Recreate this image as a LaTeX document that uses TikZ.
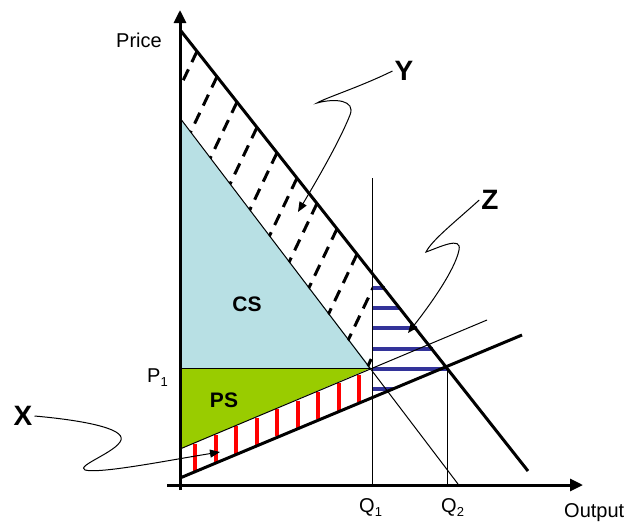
\documentclass[tikz,border=0pt]{standalone}
\usepackage{fontspec}
\setmainfont{Liberation Sans}
\usetikzlibrary{arrows.meta}

\definecolor{csblue}{RGB}{184,224,228}
\definecolor{psgreen}{RGB}{153,204,0}
\definecolor{hatchblue}{RGB}{51,51,153}

\newcommand{\lowsub}[1]{\raisebox{-4pt}{\fontsize{13}{13}\selectfont #1}}

\begin{document}
\begin{tikzpicture}[
  x=1pt, y=-1pt,
  axis/.style={line width=3pt, -{Triangle[length=13pt,width=12pt]}},
  thickline/.style={line width=3pt},
  thinline/.style={line width=1pt},
  lbl/.style={font=\fontsize{20}{22}\selectfont, inner sep=0pt, anchor=base west},
  big/.style={font=\fontsize{28}{30}\selectfont\bfseries, inner sep=2pt},
  area/.style={font=\fontsize{21}{23}\selectfont\bfseries},
  pointer/.style={line width=1pt, -{Triangle[length=10pt,width=8pt]}},
  dashhatch/.style={line width=3pt, dash pattern=on 12pt off 8pt},
  redhatch/.style={line width=4pt, red},
  bluehatch/.style={line width=4pt, hatchblue}
]

\useasboundingbox (0,0) rectangle (629,523);

\coordinate (ytop) at (180,10);
\coordinate (ybot) at (180,490);
\coordinate (xleft) at (167,485);
\coordinate (xright) at (583,485);
\coordinate (d1a) at (181,31);
\coordinate (d1b) at (528,471);
\coordinate (d2a) at (180,118);
\coordinate (d2b) at (458,484);
\coordinate (s1a) at (180,478);
\coordinate (s1b) at (522,335);
\coordinate (s2a) at (180,449);
\coordinate (s2b) at (487,320);
\coordinate (e1) at (371,368);
\coordinate (p1) at (180,368);
\coordinate (q1top) at (372,178);
\coordinate (q1bot) at (372,485);
\coordinate (e2) at (447,367);
\coordinate (q2bot) at (447,485);
\coordinate (xtip) at (220,452);
\coordinate (ytip) at (298,212);
\coordinate (ztip) at (408,333);

\fill[csblue] (d2a) -- (e1) -- (p1) -- cycle;
\fill[psgreen] (p1) -- (e1) -- (s2a) -- cycle;
\draw[thinline] (p1) -- (e1);

\begin{scope}
  \clip (d1a) -- (372,273) -- (372,372) -- (d2a) -- cycle;
  \foreach \xx in {197,217,...,397}
    \draw[dashhatch] (\xx,{31+1.268*(\xx-181)}) -- ++(-70,147);
\end{scope}

\foreach \i [evaluate=\i as \xx using 195+20.5*\i] in {0,...,8}
  \draw[redhatch] (\xx,{450-0.4202*(\xx-180)}) -- (\xx,{477-0.4181*(\xx-180)});

\foreach \yy/\xx in {288/385,308/400,328/417,349/433,369/447,389/393}
  \draw[bluehatch] (372,\yy) -- (\xx,\yy);

\draw[thinline] (q1top) -- (q1bot);
\draw[thinline] (e2) -- (q2bot);
\draw[thinline] (d2a) -- (d2b);
\draw[thinline] (s2a) -- (s2b);
\draw[thickline] (d1a) -- (d1b);
\draw[thickline] (s1a) -- (s1b);
\draw[axis] (ybot) -- (ytop);
\draw[axis] (xleft) -- (xright);

\node[lbl] (price) at (116,47) {Price};
\node[lbl] (pone) at (147,382) {P\lowsub{1}};
\node[lbl] (qone) at (359,512) {Q\lowsub{1}};
\node[lbl] (qtwo) at (441,512) {Q\lowsub{2}};
\node[lbl] (output) at (564,517) {Output};
\node[area] (cs) at (247,304) {CS};
\node[area] (ps) at (224,400) {PS};
\node[big] (xlab) at (23,416) {X};
\node[big] (ylab) at (404,71) {Y};
\node[big] (zlab) at (490,200) {Z};

\draw[pointer] (xlab.east) .. controls (80,420) and (125,428) .. (121,440)
  .. controls (117,452) and (75,466) .. (85,470)
  .. controls (100,474) and (170,460) .. (xtip);
\draw[pointer] (ylab.west) .. controls (360,87) and (325,98) .. (317,103)
  .. controls (335,98) and (356,100) .. (350,115)
  .. controls (340,140) and (320,175) .. (ytip);
\draw[pointer] (zlab.west) .. controls (455,222) and (432,240) .. (426,252)
  .. controls (440,247) and (462,236) .. (459,250)
  .. controls (455,270) and (430,305) .. (ztip);

\end{tikzpicture}
\end{document}
